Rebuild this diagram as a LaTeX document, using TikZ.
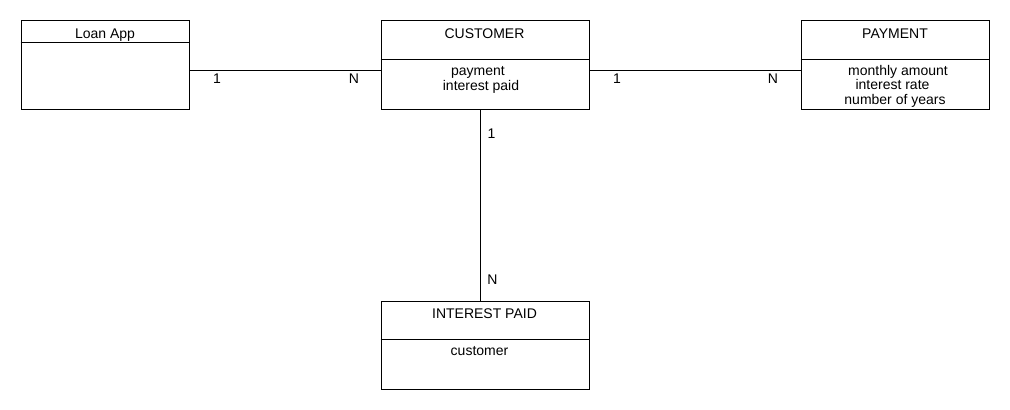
\documentclass[tikz,border=0pt]{standalone}
\usepackage{fontspec}
\setmainfont{Liberation Sans}
\begin{document}
\begin{tikzpicture}[x=0.75pt,y=-0.75pt,
  ent/.style={draw,line width=0.75pt,rectangle,inner sep=0pt,anchor=north west},
  txt/.style={inner sep=0pt,anchor=base,font=\fontsize{10.5pt}{12pt}\selectfont},
  conn/.style={draw,line width=0.75pt},
  card/.style={inner sep=0pt,anchor=center,font=\fontsize{10.5pt}{12pt}\selectfont}]
\useasboundingbox (0,0) rectangle (1010,410);
% entities
\node[ent,minimum width=126.4pt,minimum height=66.4pt] (loan) at (20.5,20) {};
\node[ent,minimum width=156.4pt,minimum height=66.4pt] (cust) at (380.5,20) {};
\node[ent,minimum width=141.4pt,minimum height=66.4pt] (pay) at (800.5,20) {};
\node[ent,minimum width=156.4pt,minimum height=66pt] (ip) at (380.5,300.5) {};
% dividers
\draw[line width=0.75pt] ([yshift=-17.2pt]loan.north west) -- ([yshift=-17.2pt]loan.north east);
\draw[line width=0.75pt] ([yshift=-29.5pt]cust.north west) -- ([yshift=-29.5pt]cust.north east);
\draw[line width=0.75pt] ([yshift=-29.5pt]pay.north west) -- ([yshift=-29.5pt]pay.north east);
\draw[line width=0.75pt] ([yshift=-29pt]ip.north west) -- ([yshift=-29pt]ip.north east);
% headers
\node[txt] (loanT) at (105,38.5) {Loan App};
\node[txt] (custT) at (484.5,38.3) {CUSTOMER};
\node[txt] (payT) at (895,38.3) {PAYMENT};
\node[txt] (ipT) at (484.5,318.3) {INTEREST PAID};
% attributes
\node[txt] (custA1) at (478,75) {payment};
\node[txt] (custA2) at (481,90) {interest paid};
\node[txt] (payA1) at (898,75) {monthly amount};
\node[txt] (payA2) at (892.5,89.5) {interest rate};
\node[txt] (payA3) at (895,104.3) {number of years};
\node[txt] (ipA1) at (479.5,355) {customer};
% connectors
\draw[conn] ([yshift=-4.6pt]loan.east) -- ([yshift=-4.6pt]cust.west);
\draw[conn] ([yshift=-4.6pt]cust.east) -- ([yshift=-4.6pt]pay.west);
\draw[conn] ([xshift=-3.6pt]cust.south) -- ([xshift=-3.6pt]ip.north);
% cardinalities
\node[card] (c1) at (217,79) {1};
\node[card] (c2) at (354,79) {N};
\node[card] (c3) at (617,79) {1};
\node[card] (c4) at (773,79) {N};
\node[card] (c5) at (491.5,134) {1};
\node[card] (c6) at (492.5,280) {N};
\end{tikzpicture}
\end{document}
